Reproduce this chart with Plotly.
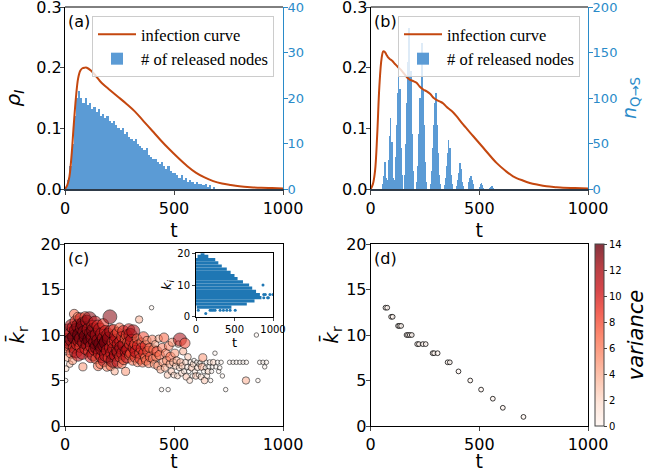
import plotly.graph_objects as go

W, H = 660, 472

# ---------------- data ----------------
# (a) infection curve
a_t = [0, 10, 20, 30, 40, 50, 60, 70, 80, 90, 100, 120, 140, 160, 180, 200, 240, 280, 320, 360, 400,
       440, 480, 520, 560, 600, 640, 680, 720, 760, 800, 850, 900, 950, 1000]
a_rho = [0.0, 0.006, 0.02, 0.055, 0.105, 0.15, 0.182, 0.195, 0.199, 0.2, 0.2, 0.195, 0.187, 0.178, 0.171,
         0.165, 0.153, 0.141, 0.128, 0.112, 0.096, 0.08, 0.065, 0.051, 0.038, 0.027, 0.019, 0.013, 0.009,
         0.0065, 0.0045, 0.003, 0.002, 0.0015, 0.001]
# (a) released nodes, bins of 10
a_bin = [5, 15, 25, 35, 45, 55, 65, 75, 85, 95, 105, 115, 125, 135, 145, 155, 165, 175, 185, 195, 205, 215,
         225, 235, 245, 255, 265, 275, 285, 295, 305, 315, 325, 335, 345, 355, 365, 375, 385, 395, 405, 415,
         425, 435, 445, 455, 465, 475, 485, 495, 505, 515, 525, 535, 545, 555, 565, 575, 585, 595, 605, 615,
         625, 635, 645, 655, 665, 675, 685]
a_cnt = [0.5, 2, 5, 10, 16, 20, 21.5, 20, 19, 20, 18.5, 19, 17.5, 18, 17, 17.5, 16, 16.5, 15.5, 16, 15,
         14.5, 15, 14, 13.5, 13, 13.5, 12, 12.5, 11.5, 11, 10.5, 11, 10, 9.5, 9, 8.5, 9, 7.5, 7, 6.5, 6.5,
         6, 5.5, 6, 5, 4.5, 5, 4, 3.5, 3.5, 3, 2.5, 3, 2, 2.5, 1.5, 2, 1.5, 1, 1.5, 1, 1, 0.8, 1, 0.5, 0.8,
         0, 0.5]

# (b) infection curve
b_t = [0, 10, 20, 30, 40, 50, 58, 65, 73, 80, 89, 100, 112, 125, 135, 145, 158, 170, 181, 195, 211, 225,
       242, 258, 273, 290, 303, 320, 334, 350, 364, 380, 395, 426, 472, 518, 579, 620, 655, 700, 732, 770,
       809, 850, 885, 940, 1000]
b_rho = [0.0, 0.008, 0.03, 0.09, 0.17, 0.215, 0.227, 0.226, 0.221, 0.217, 0.214, 0.211, 0.206, 0.201,
         0.198, 0.194, 0.188, 0.183, 0.18, 0.178, 0.175, 0.169, 0.164, 0.161, 0.157, 0.15, 0.147, 0.144,
         0.141, 0.135, 0.131, 0.126, 0.12, 0.106, 0.087, 0.068, 0.043, 0.03, 0.021, 0.014, 0.01, 0.007,
         0.0045, 0.003, 0.002, 0.0015, 0.001]
# (b) released nodes, bins of 4
b_bin = [56, 60, 64, 68, 72,
         78, 82, 86, 90, 94, 98, 102,
         110, 114, 118, 122, 126, 130, 134, 138, 142,
         156, 160, 164, 168, 172, 176, 180, 184, 188, 192,
         212, 216, 220, 224, 228, 232, 236, 240, 244, 248, 252,
         276, 280, 284, 288, 292, 296, 300, 304, 308, 312, 316,
         340, 344, 348, 352, 356, 360, 364, 368, 372,
         396, 400, 404, 408, 412, 416, 420, 424,
         448, 452, 456, 460, 464, 468, 472,
         500, 504, 508, 512, 516,
         548, 552, 556, 560]
b_cnt = [5, 14, 30, 12, 4,
         10, 32, 58, 78, 45, 52, 12,
         10, 35, 70, 105, 131, 90, 110, 45, 15,
         15, 50, 95, 140, 120, 177, 100, 130, 60, 20,
         8, 25, 60, 100, 85, 140, 160, 110, 70, 30, 8,
         6, 20, 45, 70, 60, 95, 105, 70, 40, 15, 5,
         4, 12, 25, 40, 54, 35, 45, 15, 5,
         3, 10, 18, 29, 15, 22, 8, 3,
         3, 8, 12, 14, 10, 5, 2,
         2, 5, 7, 4, 1,
         1, 2, 3, 1]

# (c) mean degree of released nodes
c_t = [3, 5, 8, 10, 12, 15, 18, 20, 22, 25, 28, 30, 32, 35, 38, 40, 42, 45, 48, 50, 52, 55, 58, 60, 62,
       65, 68, 70, 72, 75, 78, 80, 82, 85, 88, 90, 92, 95, 98, 100,
       105, 108, 110, 112, 115, 118, 120, 122, 125, 128, 130, 132, 135, 138, 140, 142, 145, 148, 150, 152,
       155, 158, 160, 162, 165, 168, 170, 172, 175, 178, 180, 182, 185, 188, 190, 192, 195, 198, 200, 203,
       206, 208, 210, 212, 215, 218, 220, 222, 225, 228, 230, 232, 235, 238, 240, 243, 245, 248, 250, 253,
       255, 258, 260, 262, 265, 268, 270, 272, 275, 278, 280, 283, 285, 288, 290, 293, 295, 298,
       300, 303, 306, 310, 313, 316, 320, 323, 326, 330, 333, 336, 340, 343, 346, 350, 353, 356, 360, 363,
       366, 370, 373, 376, 380, 384, 388, 392, 397, 400, 403, 406, 410, 414, 418, 422, 426, 430, 434, 438,
       443, 446, 450, 454, 458, 462, 466, 470, 473, 476, 480, 484, 488, 492, 496, 500,
       504, 508, 512, 516, 520, 524, 527, 530, 534, 538, 542, 546, 550, 553, 556, 560, 564, 568, 572, 576,
       580, 584, 588, 592, 596, 600, 604, 608, 612, 616, 620, 624, 628, 632, 636, 640, 644, 648, 652, 656,
       660, 664, 668, 672, 676, 680, 688, 692, 700, 705, 710, 716, 722, 737, 755, 771, 786, 802, 817, 830,
       832, 878, 885, 893, 908, 916, 924]
c_k = [5.0, 6.3, 8.5, 9.5, 7.5, 10.5, 8.8, 9.2, 6.8, 10.2, 8.0, 11.0, 9.5, 7.2, 10.8, 8.6, 12.3, 9.8, 11.5,
       8.2, 10.5, 9.0, 12.0, 7.8, 11.0, 9.4, 10.0, 8.7, 11.8, 9.6, 10.8, 8.0, 6.5, 11.2, 9.2, 10.3, 12.0,
       8.5, 9.8, 11.5,
       9.0, 10.6, 8.2, 11.8, 9.5, 7.6, 10.2, 8.8, 11.0, 9.7, 7.9, 10.5, 8.4, 11.4, 9.2, 7.4, 10.0, 8.7,
       11.0, 6.6, 9.4, 8.0, 10.6, 6.8, 9.0, 7.6, 10.1, 8.5, 11.2, 9.6, 7.2, 8.9, 10.4, 7.8, 9.2, 6.5, 8.3,
       10.0, 7.5, 9.6, 12.0, 8.6, 6.6, 10.4, 8.0, 9.2, 7.2, 10.6, 8.5, 6.0, 9.4, 7.8, 9.9, 8.3, 10.3, 7.0,
       9.0, 8.1, 10.8, 7.6, 9.3, 8.6, 6.8, 9.8, 8.0, 10.4, 7.3, 8.9, 9.6, 6.0, 8.2, 10.0, 7.6, 9.2, 8.4,
       10.6, 7.8, 9.0,
       10.0, 8.0, 9.4, 7.2, 10.4, 8.6, 9.0, 7.6, 8.2, 9.6, 7.0, 8.8, 11.7, 8.0, 7.4, 9.2, 8.5, 7.0, 9.8,
       8.0, 7.5, 8.8, 7.2, 9.4, 8.2, 6.9, 8.6, 7.6, 13.0, 9.5, 7.4, 8.4, 6.8, 9.0, 7.6, 8.2, 6.6, 9.6, 7.8,
       6.2, 4.0, 8.6, 7.0, 9.7, 6.4, 8.0, 7.2, 5.6, 4.0, 8.8, 6.8, 7.6, 6.0, 9.2, 7.0, 5.6,
       8.0, 6.6, 7.2, 5.5, 9.0, 6.4, 9.5, 7.0, 5.8, 6.6, 8.2, 6.0, 9.1, 7.0, 5.4, 6.5, 7.6, 6.0, 5.0, 7.0,
       6.4, 5.5, 6.8, 7.2, 6.0, 5.5, 7.0, 6.4, 5.6, 6.8, 7.0, 5.4, 6.5, 7.5, 6.0, 5.0, 6.4, 7.0, 5.5, 6.0,
       6.5, 7.0, 5.0, 6.0, 6.5, 7.0, 8.0, 6.5, 7.0, 6.0, 6.4, 7.0, 5.5, 4.0, 7.0, 7.0, 7.0, 7.0, 7.0, 5.0,
       7.0, 10.0, 5.0, 7.0, 7.0, 6.5, 7.0]
c_var = [0, 2, 6, 11, 4, 12, 9, 13, 3, 10, 8, 12, 13, 5, 11, 9, 7, 14, 9, 12, 13, 10, 6, 11, 13, 12, 14,
         9, 10, 13, 12, 11, 5, 14, 12, 13, 8, 10, 14, 11,
         13, 12, 9, 13, 14, 10, 12, 11, 9, 13, 12, 14, 10, 11, 13, 8, 12, 14, 10, 7, 13, 11, 12, 6, 14, 10,
         12, 13, 9, 12, 11, 13, 10, 12, 14, 6, 11, 12, 9, 13, 13, 10, 7, 12, 11, 9, 13, 8, 12, 4, 10, 11,
         12, 9, 8, 10, 11, 13, 7, 9, 10, 12, 6, 9, 11, 10, 8, 12, 7, 5, 10, 9, 11, 8, 12, 10, 7, 9,
         12, 9, 11, 7, 12, 10, 8, 9, 11, 7, 6, 10, 4, 8, 9, 6, 10, 7, 8, 9, 6, 9, 7, 5, 8, 6, 7, 8, 0, 6,
         6, 7, 5, 4, 6, 8, 5, 4, 7, 4, 0, 6, 5, 7, 4, 6, 5, 3, 0, 6, 4, 7, 3, 5, 4, 2,
         5, 3, 4, 2, 3, 2, 12, 4, 2, 3, 4, 1, 8, 2, 3, 1, 3, 0, 2, 1, 3, 0, 2, 0, 1, 3, 0, 2, 0, 1, 0, 2,
         4, 5, 0, 3, 0, 0, 1, 2, 0, 1, 0, 0, 0, 2, 0, 0, 0, 0, 0, 0, 0, 0, 0, 0, 0, 0, 0, 4, 0, 0, 0, 0,
         0, 0, 0]

# inset: degree of each released node (rows of integer degree, t extent)
in_k = [20, 19, 18, 17, 16, 15, 14, 13, 12, 11, 10, 9, 8, 7, 6, 5, 4, 3]
in_tmin = [60, 20, 0, 0, 0, 0, 0, 0, 0, 0, 0, 0, 0, 0, 0, 0, 0, 10]
in_tmax = [110, 160, 250, 290, 335, 400, 450, 500, 540, 610, 690, 730, 780, 830, 850, 760, 660, 460]
in_out_t = [870, 880, 900, 940, 960, 1000, 880, 930, 30, 183, 204, 226, 248, 313, 356, 400, 443, 509, 127]
in_out_k = [10, 7, 7, 6, 7, 7, 6, 6, 2, 2, 2, 2, 2, 2, 2, 2, 2, 2, 1]

# (d)
d_t = [68, 76, 94, 101, 126, 132, 140, 165, 172, 180, 189, 214, 222, 240, 253, 285, 292, 308, 354, 364,
       404, 458, 508, 562, 608, 703]
d_k = [13, 13, 12, 12, 11, 11, 11, 10, 10, 10, 10, 9, 9, 9, 9, 8, 8, 8, 7, 7, 6, 5, 4, 3, 2, 1]
d_var = [0] * len(d_t)

# ---------------- styling ----------------
RED = "#c4470f"
BAR = "#5b9bd5"
BLUE = "#2a8bc9"
FONT = "DejaVu Sans"
SERIF = "Liberation Serif"

reds = ['#fff5f0', '#fee0d2', '#fcbba1', '#fc9272', '#fb6a4a', '#ef3b2c', '#cb181d', '#a50f15', '#67000d']
cscale = []
for i, h in enumerate(reds):
    r, g, b = int(h[1:3], 16), int(h[3:5], 16), int(h[5:7], 16)
    cscale.append([i / (len(reds) - 1), f"rgba({r},{g},{b},0.8)"])


def fx(p):
    return p / W


def fy(p):
    return 1 - p / H


fig = go.Figure()

# (a)
fig.add_trace(go.Bar(x=a_bin, y=a_cnt, width=10, marker=dict(color=BAR, line=dict(width=0)),
                     name="# of released nodes", xaxis="x", yaxis="y", legend="legend"))
fig.add_trace(go.Scatter(x=a_t, y=a_rho, mode="lines", line=dict(color=RED, width=2, shape="spline"),
                         name="infection curve", xaxis="x", yaxis="y2", legend="legend"))
# (b)
fig.add_trace(go.Bar(x=b_bin, y=b_cnt, width=3.2, marker=dict(color=BAR, line=dict(width=0)),
                     name="# of released nodes", xaxis="x2", yaxis="y3", legend="legend2"))
fig.add_trace(go.Scatter(x=b_t, y=b_rho, mode="lines", line=dict(color=RED, width=2, shape="spline"),
                         name="infection curve", xaxis="x2", yaxis="y4", legend="legend2"))
# (c)
fig.add_trace(go.Scatter(x=c_t, y=c_k, mode="markers", xaxis="x3", yaxis="y5", showlegend=False,
                         marker=dict(color=c_var, coloraxis="coloraxis",
                                     size=[4.5 + 0.72 * v for v in c_var],
                                     line=dict(color="rgba(0,0,0,0.85)", width=0.9))))
# inset rows
for k, t0, t1 in zip(in_k, in_tmin, in_tmax):
    fig.add_trace(go.Scatter(x=[t0, t1], y=[k, k], mode="lines", xaxis="x5", yaxis="y7",
                             showlegend=False, line=dict(color="#1f77b4", width=3.2)))
fig.add_trace(go.Scatter(x=in_out_t, y=in_out_k, mode="markers", xaxis="x5", yaxis="y7", showlegend=False,
                         marker=dict(color="#1f77b4", size=3)))
# (d)
fig.add_trace(go.Scatter(x=d_t, y=d_k, mode="markers", xaxis="x4", yaxis="y6", showlegend=False,
                         marker=dict(color=d_var, coloraxis="coloraxis", size=4.8,
                                     line=dict(color="rgba(0,0,0,0.85)", width=0.9))))

tick = dict(ticks="outside", ticklen=4, tickwidth=1, showgrid=False, zeroline=False,
            ticklabeloverflow="allow", tickfont=dict(size=16, color="black", family=FONT))

xa = [65, 283]
xb = [370.7, 588]
ytop = [7, 189]
ybot = [244, 426]

lay = dict(
    width=W, height=H, margin=dict(l=0, r=0, t=0, b=0, autoexpand=False), autosize=False,
    paper_bgcolor="white", plot_bgcolor="white", font=dict(family=FONT, color="black"),
    bargap=0,
)

def xaxis(dom, anchor, **kw):
    d = dict(tick, domain=[fx(dom[0]), fx(dom[1])], anchor=anchor, range=[0, 1000],
             tickvals=[0, 500, 1000], showline=True, linecolor="black", linewidth=1,
             title=dict(text="t", font=dict(size=19), standoff=6))
    d.update(kw)
    return d

lay["xaxis"] = xaxis(xa, "y", linecolor="#2e3a48", linewidth=2)
lay["xaxis2"] = xaxis(xb, "y3", linecolor="#2e3a48", linewidth=2)
lay["xaxis3"] = xaxis(xa, "y5", mirror=True)
lay["xaxis4"] = xaxis(xb, "y6", mirror=True)

right_tick = dict(tick, tickfont=dict(size=13, color=BLUE, family=FONT), tickcolor=BLUE,
                  showline=True, linecolor=BLUE, linewidth=1, side="right", ticklabelstandoff=-3)
lay["yaxis"] = dict(right_tick, domain=[fy(ytop[1]), fy(ytop[0])], anchor="x", range=[0, 40],
                    tickvals=[0, 10, 20, 30, 40])
lay["yaxis2"] = dict(tick, overlaying="y", anchor="x", side="left", range=[0, 0.3],
                     tickvals=[0, 0.1, 0.2, 0.3], ticktext=["0.0", "0.1", "0.2", "0.3"],
                     showline=True, linecolor="black", linewidth=1, ticklabelstandoff=-5,
                     title=dict(text="<i>ρ<sub>I</sub></i>", font=dict(size=20), standoff=10))
lay["yaxis3"] = dict(right_tick, domain=[fy(ytop[1]), fy(ytop[0])], anchor="x2", range=[0, 200],
                     tickvals=[0, 50, 100, 150, 200],
                     title=dict(text="<i>n</i><sub>Q→S</sub>", font=dict(size=19, color=BLUE), standoff=6))
lay["yaxis4"] = dict(tick, overlaying="y3", anchor="x2", side="left", range=[0, 0.3],
                     tickvals=[0, 0.1, 0.2, 0.3], ticktext=["0.0", "0.1", "0.2", "0.3"],
                     showline=True, linecolor="black", linewidth=1, ticklabelstandoff=-5)
lay["yaxis5"] = dict(tick, domain=[fy(ybot[1]), fy(ybot[0])], anchor="x3", range=[0, 20],
                     tickvals=[0, 5, 10, 15, 20], showline=True, linecolor="black", mirror=True,
                     ticklabelstandoff=-4,
                     title=dict(text="<i>k̄</i><sub>r</sub>", font=dict(size=20), standoff=10))
lay["yaxis6"] = dict(tick, domain=[fy(ybot[1]), fy(ybot[0])], anchor="x4", range=[0, 20],
                     tickvals=[0, 5, 10, 15, 20], showline=True, linecolor="black", mirror=True,
                     ticklabelstandoff=-4,
                     title=dict(text="<i>k̄</i><sub>r</sub>", font=dict(size=20), standoff=2))
# inset
small = dict(ticks="outside", ticklen=3, showgrid=False, zeroline=False, showline=True,
             ticklabeloverflow="allow",
             linecolor="black", mirror=True, tickfont=dict(size=10, color="black", family=FONT))
lay["xaxis5"] = dict(small, domain=[fx(196), fx(273)], anchor="y7", range=[0, 1000],
                     tickvals=[0, 500, 1000], title=dict(text="t", font=dict(size=13), standoff=0))
lay["yaxis7"] = dict(small, domain=[fy(316.7), fy(253.3)], anchor="x5", range=[0, 20],
                     tickvals=[0, 10, 20], title=dict(text="<i>k<sub>i</sub></i>", font=dict(size=13), standoff=2))

lay["coloraxis"] = dict(colorscale=cscale, cmin=0, cmax=14,
                        colorbar=dict(x=fx(595), xanchor="left", xpad=0, ypad=0, thickness=9,
                                      len=(ybot[1] - ybot[0]) / H, lenmode="fraction",
                                      y=fy((ybot[0] + ybot[1]) / 2), yanchor="middle",
                                      tickvals=list(range(0, 15, 2)), ticks="outside", ticklen=3,
                                      tickfont=dict(size=10, family=FONT),
                                      outlinewidth=1, outlinecolor="#444",
                                      title=dict(text="<i>variance</i>", side="right",
                                                 font=dict(size=21, family=FONT))))

leg = dict(bgcolor="rgba(255,255,255,0.8)", bordercolor="#cccccc", borderwidth=1,
           font=dict(family=SERIF, size=16.5), xanchor="left", yanchor="top", traceorder="reversed",
           itemwidth=38, tracegroupgap=0)
lay["legend"] = dict(leg, x=fx(92), y=fy(16))
lay["legend2"] = dict(leg, x=fx(398), y=fy(16))

lay["shapes"] = [
    dict(type="line", xref="x domain", yref="y domain", x0=0, x1=1, y0=1, y1=1,
         line=dict(color="black", width=1)),
    dict(type="line", xref="x2 domain", yref="y3 domain", x0=0, x1=1, y0=1, y1=1,
         line=dict(color="black", width=1)),
]

ann = []
for lab, px_, py_ in [("(a)", 66, 22), ("(b)", 372, 22), ("(c)", 66, 258), ("(d)", 372, 258)]:
    ann.append(dict(text=lab, x=fx(px_), y=fy(py_), xref="paper", yref="paper", xanchor="left",
                    yanchor="middle", showarrow=False, font=dict(size=16, family=FONT)))
lay["annotations"] = ann

fig.update_layout(**lay)
fig.write_html("out.html")
